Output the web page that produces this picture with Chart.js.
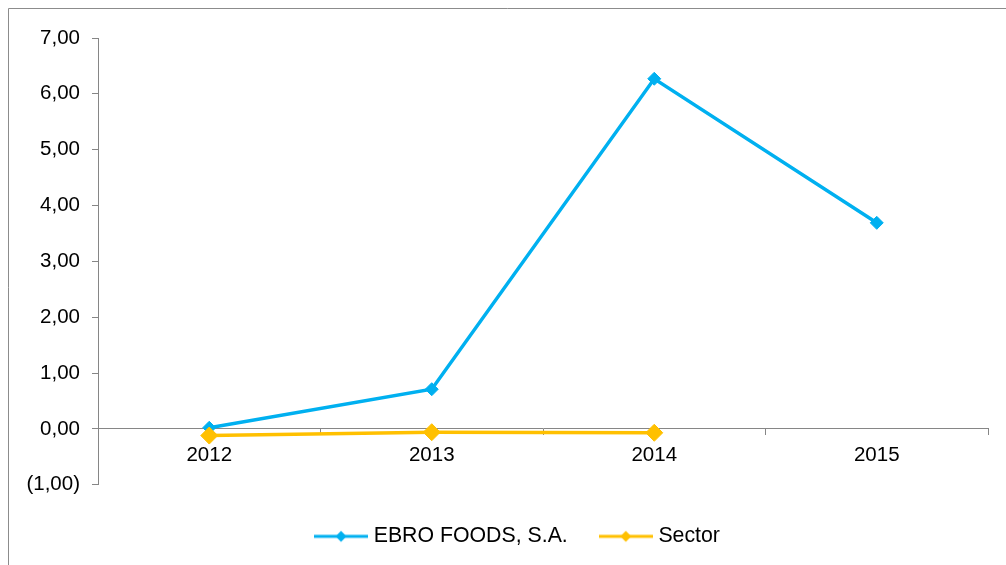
<!DOCTYPE html>
<html><head><meta charset="utf-8">
<script src="https://cdn.jsdelivr.net/npm/chart.js@4.4.1/dist/chart.umd.min.js"></script>
<style>html,body{margin:0;padding:0;background:#fff}#wrap{width:1006px;height:565px;position:relative}</style>
</head><body><div id="wrap"><canvas id="c" width="1006" height="565"></canvas></div>
<script>
const categories = ['2012', '2013', '2014', '2015'];
const ebroValues = [0.02, 0.71, 6.27, 3.69];
const sectorValues = [-0.12, -0.06, -0.07, null];
const seriesNames = ['EBRO FOODS, S.A.', 'Sector'];
const seriesColors = ['#00B0F0', '#FFC000'];
const yMin = -1, yMax = 7, yStep = 1;

const FONT = 'Liberation Sans, Arial, sans-serif';
const FS = 20.5;
const LFS = 21.3;
const AXIS = '#868686';

function fmt(v) {
  const s = Math.abs(v).toFixed(2).replace('.', ',');
  return v < 0 ? '(' + s + ')' : s;
}
function legendIcon(color) {
  const c = document.createElement('canvas');
  c.width = 54; c.height = 14;
  const g = c.getContext('2d');
  g.strokeStyle = color; g.lineWidth = 3;
  g.beginPath(); g.moveTo(0, 7); g.lineTo(54, 7); g.stroke();
  g.fillStyle = color;
  g.beginPath(); g.moveTo(27, 1.5); g.lineTo(32.5, 7); g.lineTo(27, 12.5); g.lineTo(21.5, 7); g.closePath(); g.fill();
  return c;
}
const icons = seriesColors.map(legendIcon);

const frame = {
  id: 'frame',
  afterLayout(chart) {
    const lg = chart.legend;
    if (lg) { lg.left += 18; lg.right += 18; }
  },
  beforeDraw(chart) {
    const ctx = chart.ctx;
    ctx.save();
    ctx.strokeStyle = '#8c8c8c'; ctx.lineWidth = 1;
    ctx.beginPath(); ctx.moveTo(8.5, 600); ctx.lineTo(8.5, 8.5); ctx.lineTo(1100, 8.5); ctx.stroke();
    ctx.restore();
  }
};

new Chart(document.getElementById('c'), {
  type: 'line',
  data: {
    labels: categories,
    datasets: [
      { label: seriesNames[0], data: ebroValues, borderColor: seriesColors[0], backgroundColor: seriesColors[0],
        borderWidth: 3.5, pointStyle: 'rectRot', pointRadius: 6.5, pointBorderWidth: 1, order: 1, tension: 0 },
      { label: seriesNames[1], data: sectorValues, borderColor: seriesColors[1], backgroundColor: seriesColors[1],
        borderWidth: 3.5, pointStyle: 'rectRot', pointRadius: 8.5, pointBorderWidth: 1, order: 0, tension: 0 }
    ]
  },
  options: {
    responsive: false, animation: false, devicePixelRatio: 1,
    layout: { padding: { left: 15, right: 18, top: 38, bottom: 8 } },
    scales: {
      x: {
        type: 'category', position: { y: 0 }, offset: true,
        grid: { offset: true, drawOnChartArea: false, tickLength: 6, color: AXIS, lineWidth: 1 },
        border: { color: AXIS, width: 1 },
        ticks: { color: '#000', font: { family: FONT, size: FS }, padding: 8, maxRotation: 0 }
      },
      y: {
        min: yMin, max: yMax,
        afterFit(s) { s.width = 83; },
        grid: { drawOnChartArea: false, tickLength: 6, color: AXIS },
        border: { color: AXIS, width: 1 },
        ticks: { stepSize: yStep, color: '#000', font: { family: FONT, size: FS }, padding: 12, callback: v => fmt(v) }
      }
    },
    plugins: {
      tooltip: { enabled: false },
      legend: {
        position: 'bottom',
        title: { display: true, text: '', font: { size: 1, lineHeight: 1 }, padding: 2 },
        labels: {
          usePointStyle: true, pointStyleWidth: 44, padding: 36, color: '#000',
          font: { family: FONT, size: LFS },
          generateLabels(chart) {
            return chart.data.datasets.map((d, i) => ({
              text: d.label, pointStyle: icons[i], fillStyle: d.borderColor, strokeStyle: d.borderColor,
              lineWidth: 0, hidden: false, datasetIndex: i, fontColor: '#000'
            }));
          }
        }
      }
    }
  },
  plugins: [frame]
});
</script></body></html>
